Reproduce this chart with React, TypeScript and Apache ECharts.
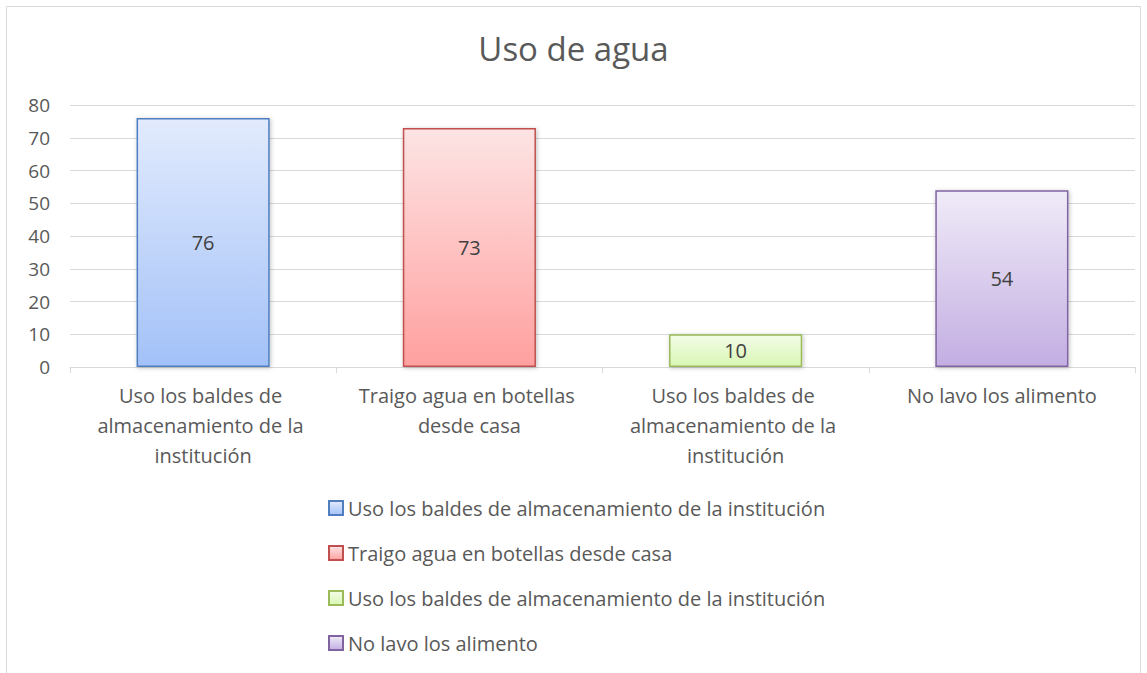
import React, { useEffect, useRef } from "react";
import * as echarts from "echarts";

const title = "Uso de agua";
const categories = [
  "Uso los baldes de almacenamiento de la institución",
  "Traigo agua en botellas desde casa",
  "Uso los baldes de almacenamiento de la institución",
  "No lavo los alimento",
];
const values = [76, 73, 10, 54];
const yTicks = { min: 0, max: 80, interval: 10 };

const topColors = ["#e2ebfd", "#fde4e4", "#f3fde7", "#f0ebf8"];
const bottomColors = ["#a3c1f8", "#ffa09f", "#d9f7b4", "#c3aee2"];
const borderColors = ["#4f7fc0", "#c0504d", "#9bbb59", "#8064a2"];

const ZW = "\u200B";

export default function App() {
  const ref = useRef<HTMLDivElement>(null);
  useEffect(() => {
    if (!ref.current) return;
    const chart = echarts.init(ref.current, null, { renderer: "svg" });
    const font = "'Open Sans', 'Noto Sans', sans-serif";
    const series = categories.map((name, i) => ({
      type: "bar",
      name: name + ZW.repeat(i),
      stack: "all",
      barWidth: "50%",
      data: values.map((v, j) => (j === i ? v : "-")),
      itemStyle: {
        color: new echarts.graphic.LinearGradient(0, 0, 0, 1, [
          { offset: 0, color: topColors[i] },
          { offset: 1, color: bottomColors[i] },
        ]),
        borderColor: borderColors[i],
        borderWidth: 1.5,
        shadowColor: "rgba(0,0,0,0.25)",
        shadowBlur: 4,
        shadowOffsetX: 1,
        shadowOffsetY: 1,
      },
      label: {
        show: true,
        position: "inside",
        color: "#404040",
        fontSize: 20,
        fontFamily: font,
      },
    }));
    chart.setOption({
      animation: false,
      backgroundColor: "#ffffff",
      textStyle: { fontFamily: font },
      title: {
        text: title,
        left: "center",
        top: 27,
        textStyle: { fontSize: 33, fontWeight: "normal", color: "#595959", fontFamily: font },
      },
      graphic: [
        {
          type: "rect",
          shape: { x: 6.5, y: 6.5, width: 1134, height: 700 },
          style: { fill: "none", stroke: "#d9d9d9", lineWidth: 1 },
          silent: true,
          z: -1,
        },
      ],
      legend: {
        orient: "vertical",
        left: 323,
        top: 492,
        itemWidth: 14,
        itemHeight: 14,
        itemGap: 23,
        icon: "rect",
        textStyle: { fontSize: 20, color: "#595959", lineHeight: 22, fontFamily: font },
        formatter: (n: string) => n.replace(/\u200B/g, ""),
      },
      grid: { left: 70, right: 12, top: 105, bottom: 306 },
      xAxis: {
        type: "category",
        data: categories,
        axisLine: { lineStyle: { color: "#d9d9d9", width: 1 } },
        axisTick: { show: true, length: 6, lineStyle: { color: "#d9d9d9" } },
        axisLabel: {
          interval: 0,
          color: "#595959",
          fontSize: 20,
          lineHeight: 30,
          margin: 13,
          width: 240,
          overflow: "break",
          fontFamily: font,
        },
      },
      yAxis: {
        type: "value",
        min: yTicks.min,
        max: yTicks.max,
        interval: yTicks.interval,
        axisLine: { show: false },
        axisTick: { show: false },
        splitLine: { lineStyle: { color: "#d9d9d9", width: 1 } },
        axisLabel: { color: "#595959", fontSize: 19, margin: 20, fontFamily: font },
      },
      series,
    });
    return () => chart.dispose();
  }, []);
  return (
    <div
      ref={ref}
      style={{ position: "fixed", left: 0, top: 0, width: 1147, height: 673 }}
    />
  );
}
